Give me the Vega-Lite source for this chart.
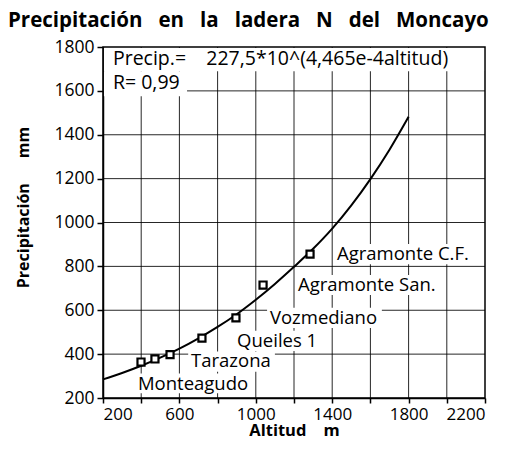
{
  "$schema": "https://vega.github.io/schema/vega-lite/v6.json",
  "width": 382,
  "height": 351,
  "padding": {"left": 7, "top": 10, "right": 5, "bottom": 0},
  "background": "white",
  "title": {
    "text": "Precipitación\u00a0\u00a0 en\u00a0\u00a0 la\u00a0\u00a0 ladera\u00a0\u00a0 N\u00a0\u00a0 del\u00a0\u00a0 Moncayo",
    "font": "Open Sans",
    "fontSize": 20.5,
    "fontWeight": "bold",
    "color": "black",
    "anchor": "start",
    "frame": "bounds",
    "offset": 7,
    "dx": -8
  },
  "config": {
    "view": {"stroke": "black", "strokeWidth": 1.5},
    "font": "Open Sans"
  },
  "datasets": {
    "vgrid": [
      {"x": 400, "y": 200, "y2": 1800}, {"x": 600, "y": 200, "y2": 1800},
      {"x": 800, "y": 200, "y2": 1800}, {"x": 1000, "y": 200, "y2": 1800},
      {"x": 1200, "y": 200, "y2": 1800}, {"x": 1400, "y": 200, "y2": 1800},
      {"x": 1600, "y": 200, "y2": 1800}, {"x": 1800, "y": 200, "y2": 1800},
      {"x": 2000, "y": 200, "y2": 1800}
    ],
    "hgrid": [
      {"x": 200, "x2": 2200, "y": 400}, {"x": 200, "x2": 2200, "y": 600},
      {"x": 200, "x2": 2200, "y": 800}, {"x": 200, "x2": 2200, "y": 1000},
      {"x": 200, "x2": 2200, "y": 1200}, {"x": 200, "x2": 2200, "y": 1400},
      {"x": 200, "x2": 2200, "y": 1600}
    ],
    "masks": [
      {"x": 205, "x2": 2195, "y": 1690, "y2": 1796},
      {"x": 205, "x2": 640, "y": 1575, "y2": 1690},
      {"x": 368, "x2": 964, "y": 222, "y2": 312},
      {"x": 646, "x2": 1100, "y": 320, "y2": 412},
      {"x": 887, "x2": 1347, "y": 414, "y2": 506},
      {"x": 1059, "x2": 1660, "y": 519, "y2": 611},
      {"x": 1206, "x2": 1969, "y": 669, "y2": 761},
      {"x": 1410, "x2": 2142, "y": 810, "y2": 902}
    ],
    "curve": [
      {"x": 200, "y": 285}, {"x": 300, "y": 314}, {"x": 400, "y": 347},
      {"x": 500, "y": 384}, {"x": 600, "y": 425}, {"x": 700, "y": 472},
      {"x": 800, "y": 524}, {"x": 900, "y": 582}, {"x": 1000, "y": 648},
      {"x": 1100, "y": 720}, {"x": 1200, "y": 798}, {"x": 1300, "y": 880},
      {"x": 1400, "y": 972}, {"x": 1500, "y": 1078}, {"x": 1600, "y": 1198},
      {"x": 1700, "y": 1332}, {"x": 1800, "y": 1482}
    ],
    "stations": [
      {"x": 399, "y": 364}, {"x": 472, "y": 378}, {"x": 551, "y": 398},
      {"x": 718, "y": 473}, {"x": 896, "y": 565}, {"x": 1038, "y": 715},
      {"x": 1284, "y": 856}
    ],
    "labels": [
      {"x": 383, "y": 265, "label": "Monteagudo"},
      {"x": 661, "y": 367, "label": "Tarazona"},
      {"x": 902, "y": 460, "label": "Queiles 1"},
      {"x": 1074, "y": 565, "label": "Vozmediano"},
      {"x": 1221, "y": 715, "label": "Agramonte San."},
      {"x": 1425, "y": 856, "label": "Agramonte C.F."}
    ],
    "eq": [
      {"x": 252, "y": 1747, "label": "Precip.=\u00a0\u00a0\u00a0\u00a0227,5*10^(4,465e-4altitud)"},
      {"x": 252, "y": 1634, "label": "R=\u00a00,99"}
    ]
  },
  "encoding": {
    "x": {
      "field": "x",
      "type": "quantitative",
      "scale": {"domain": [200, 2200], "nice": false, "zero": false},
      "axis": {
        "values": [200, 400, 600, 800, 1000, 1200, 1400, 1600, 1800, 2000, 2200],
        "labelExpr": "(datum.value - 200) % 400 == 0 ? '' + datum.value : ''",
        "title": "Altitud\u00a0\u00a0\u00a0 m",
        "titleFont": "Open Sans",
        "titleFontSize": 16.5,
        "titleFontWeight": "bold",
        "titleColor": "black",
        "titlePadding": 0,
        "labelFont": "Open Sans",
        "labelFontSize": 17,
        "labelColor": "black",
        "labelPadding": 3,
        "tickColor": "black",
        "tickSize": 5,
        "tickWidth": 1.5,
        "domainColor": "black",
        "domainWidth": 1.5,
        "grid": false
      }
    },
    "y": {
      "field": "y",
      "type": "quantitative",
      "scale": {"domain": [200, 1800], "nice": false, "zero": false},
      "axis": {
        "values": [200, 400, 600, 800, 1000, 1200, 1400, 1600, 1800],
        "format": "d",
        "title": "Precipitación\u00a0\u00a0\u00a0\u00a0\u00a0\u00a0mm",
        "titleFont": "Open Sans",
        "titleFontSize": 16,
        "titleFontWeight": "bold",
        "titleColor": "black",
        "titlePadding": 22,
        "titleY": 160,
        "labelFont": "Open Sans",
        "labelFontSize": 17.5,
        "labelColor": "black",
        "labelPadding": 3,
        "tickColor": "black",
        "tickSize": 6,
        "tickWidth": 1.5,
        "domainColor": "black",
        "domainWidth": 1.5,
        "grid": false
      }
    }
  },
  "layer": [
    {
      "data": {"name": "vgrid"},
      "mark": {"type": "rule", "color": "black", "strokeWidth": 1, "opacity": 0.85},
      "encoding": {"y2": {"field": "y2"}}
    },
    {
      "data": {"name": "hgrid"},
      "mark": {"type": "rule", "color": "black", "strokeWidth": 1, "opacity": 0.85},
      "encoding": {"x2": {"field": "x2"}}
    },
    {
      "data": {"name": "masks"},
      "mark": {"type": "rect", "color": "white", "opacity": 1},
      "encoding": {"x2": {"field": "x2"}, "y2": {"field": "y2"}}
    },
    {
      "data": {"name": "eq"},
      "mark": {"type": "text", "align": "left", "baseline": "middle", "fontSize": 19.5, "font": "Open Sans", "color": "black"},
      "encoding": {"text": {"field": "label"}}
    },
    {
      "data": {"name": "curve"},
      "mark": {"type": "line", "color": "black", "strokeWidth": 2, "interpolate": "monotone"},
      "encoding": {}
    },
    {
      "data": {"name": "stations"},
      "mark": {"type": "point", "shape": "square", "size": 50, "filled": false, "fill": "white", "fillOpacity": 1, "stroke": "black", "strokeWidth": 2.2, "opacity": 1},
      "encoding": {}
    },
    {
      "data": {"name": "labels"},
      "mark": {"type": "text", "align": "left", "baseline": "middle", "fontSize": 18.5, "font": "Open Sans", "color": "black"},
      "encoding": {"text": {"field": "label"}}
    }
  ]
}
